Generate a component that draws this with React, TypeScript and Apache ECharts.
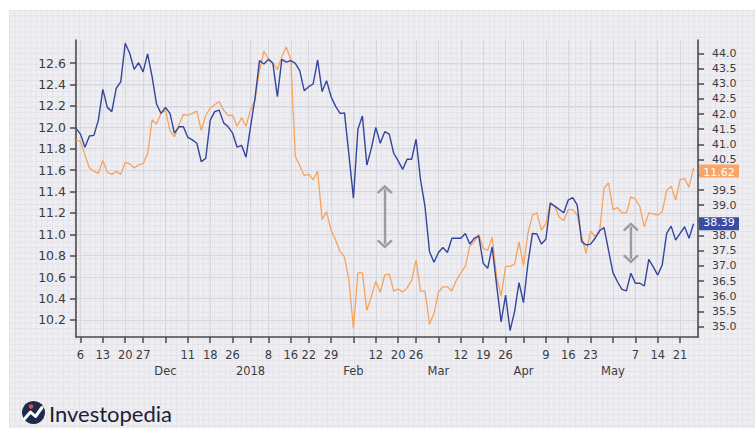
import React, { useEffect, useRef } from "react";
import * as echarts from "echarts";

// ---------- data ----------
const START_DATE = "2017-11-03";
const HOLIDAYS = ["2017-11-23", "2017-12-25", "2018-01-01", "2018-01-15", "2018-02-19", "2018-03-30"];

// orange series (left axis)
const orangeValues = [
  11.88, 11.87, 11.74, 11.62, 11.59, 11.57, 11.69, 11.58, 11.56, 11.59,
  11.56, 11.67, 11.66, 11.62, 11.65, 11.66, 11.75, 12.07, 12.03, 12.13,
  12.16, 11.97, 11.91, 12.02, 12.12, 12.11, 12.13, 12.15, 11.97, 12.11,
  12.18, 12.21, 12.24, 12.16, 12.11, 12.11, 12.01, 12.09, 12.01, 12.16,
  12.25, 12.53, 12.71, 12.64, 12.6, 12.54, 12.66, 12.75, 12.63, 11.73,
  11.64, 11.55, 11.56, 11.51, 11.59, 11.14, 11.21, 11.04, 10.95, 10.84,
  10.79, 10.57, 10.12, 10.64, 10.64, 10.29, 10.42, 10.56, 10.46, 10.62,
  10.63, 10.47, 10.49, 10.46, 10.5, 10.57, 10.76, 10.47, 10.47, 10.16,
  10.26, 10.46, 10.51, 10.51, 10.47, 10.57, 10.64, 10.7, 10.89, 10.93,
  11.0, 10.87, 10.85, 10.97, 10.6, 10.42, 10.7, 10.7, 10.72, 10.93,
  10.71, 11.01, 11.18, 11.2, 11.04, 11.1, 11.3, 11.26, 11.16, 11.13,
  11.23, 11.23, 11.18, 10.98, 10.82, 11.03, 10.98, 11.02, 11.43, 11.48,
  11.23, 11.25, 11.2, 11.2, 11.35, 11.33, 11.26, 11.07, 11.2, 11.19,
  11.18, 11.21, 11.41, 11.45, 11.32, 11.51, 11.52, 11.44, 11.62,
];

// blue series (right axis)
const blueValues = [
  41.53, 41.34, 40.91, 41.28, 41.3, 41.8, 42.81, 42.22, 42.08, 42.85,
  43.06, 44.33, 44.0, 43.47, 43.69, 43.39, 43.98, 43.23, 42.33, 42.02,
  42.22, 42.02, 41.37, 41.58, 41.58, 41.23, 41.15, 41.04, 40.43, 40.54,
  41.8, 42.08, 42.13, 41.71, 41.58, 41.37, 40.91, 40.97, 40.58, 41.58,
  42.52, 43.76, 43.65, 43.8, 43.67, 42.57, 43.8, 43.71, 43.76, 43.67,
  43.43, 42.77, 42.9, 42.99, 43.78, 42.74, 43.1, 42.57, 42.26, 42.02,
  42.04, 40.65, 39.23, 41.5, 41.94, 40.32, 40.87, 41.56, 41.04, 41.42,
  41.34, 40.71, 40.46, 40.18, 40.51, 40.51, 41.17, 39.83, 38.95, 37.47,
  37.12, 37.44, 37.61, 37.44, 37.91, 37.91, 37.91, 38.07, 37.72, 37.91,
  37.99, 37.09, 36.92, 37.63, 36.37, 35.16, 36.04, 34.87, 35.49, 36.45,
  35.79, 37.09, 38.07, 38.05, 37.72, 37.88, 39.06, 38.97, 38.86, 38.75,
  39.17, 39.25, 39.01, 37.8, 37.69, 37.72, 37.91, 38.16, 38.26, 37.52,
  36.78, 36.48, 36.23, 36.18, 36.76, 36.43, 36.43, 36.34, 37.22, 36.97,
  36.7, 37.03, 38.07, 38.31, 37.85, 38.07, 38.29, 37.91, 38.39,
];

const weekTicks = [
  "2017-11-06", "2017-11-13", "2017-11-20", "2017-11-27", "2017-12-04", "2017-12-11",
  "2017-12-18", "2017-12-26", "2018-01-02", "2018-01-08", "2018-01-16", "2018-01-22",
  "2018-01-29", "2018-02-05", "2018-02-12", "2018-02-20", "2018-02-26", "2018-03-05",
  "2018-03-12", "2018-03-19", "2018-03-26", "2018-04-02", "2018-04-09", "2018-04-16",
  "2018-04-23", "2018-04-30", "2018-05-07", "2018-05-14", "2018-05-21",
];
const monthTickDates = ["2017-12-04", "2018-01-02", "2018-02-05", "2018-03-05", "2018-04-02", "2018-04-30"];
const monthTickNames = ["Dec", "2018", "Feb", "Mar", "Apr", "May"];

const leftTicks = [10.2, 10.4, 10.6, 10.8, 11.0, 11.2, 11.4, 11.6, 11.8, 12.0, 12.2, 12.4, 12.6];
const rightTicks = [
  35.0, 35.5, 36.0, 36.5, 37.0, 37.5, 38.0, 38.5, 39.0, 39.5,
  40.0, 40.5, 41.0, 41.5, 42.0, 42.5, 43.0, 43.5, 44.0,
];
const LEFT_MIN = 10.041;
const LEFT_MAX = 12.815;
const RIGHT_MIN = 34.661;
const RIGHT_MAX = 44.438;

// annotation arrows (left-axis values)
const arrowDates = ["2018-02-14", "2018-05-04"];
const arrowTop = [11.42, 11.07];
const arrowBottom = [10.91, 10.77];

// ---------- helpers ----------
function buildDates(count: number): string[] {
  const out: string[] = [];
  const [y, m, d] = START_DATE.split("-").map(Number);
  const cur = new Date(Date.UTC(y, m - 1, d));
  while (out.length < count) {
    const s = cur.toISOString().slice(0, 10);
    const wd = cur.getUTCDay();
    if (wd !== 0 && wd !== 6 && HOLIDAYS.indexOf(s) < 0) out.push(s);
    cur.setUTCDate(cur.getUTCDate() + 1);
  }
  return out;
}

const ORANGE = "#f7a35c";
const BLUE = "#34459c";
const AXIS = "#4a4a4e";
const LABEL = "#3c3c40";
const SPLIT = "#d6d6de";
const FONT = "DejaVu Sans";
const CHEVRON = "path://M8,0L16,8L14.2,9.8L8,3.6L1.8,9.8L0,8Z";

export default function App() {
  const ref = useRef<HTMLDivElement>(null);

  useEffect(() => {
    if (!ref.current) return;
    const chart = echarts.init(ref.current, undefined, { renderer: "svg" });
    const dates = buildDates(orangeValues.length + 1);
    const tickSet = new Set(weekTicks);
    const monthMap: Record<string, string> = {};
    monthTickDates.forEach((d, i) => (monthMap[d] = monthTickNames[i]));
    const isTick = (_i: number, v: string) => tickSet.has(v);
    const lastIdx = orangeValues.length - 1;
    const padDate = dates[dates.length - 1];

    // right-axis labels hidden behind the last-value tags
    const orangeOnRight =
      RIGHT_MIN + ((orangeValues[lastIdx] - LEFT_MIN) / (LEFT_MAX - LEFT_MIN)) * (RIGHT_MAX - RIGHT_MIN);
    const tagCenters = [orangeOnRight, blueValues[lastIdx]];
    const rightLabelValues = rightTicks.filter((t) => tagCenters.every((c) => Math.abs(t - c) > 0.24));

    const tagLabel = (dy: number) => ({
      show: true,
      position: "inside",
      color: "#ffffff",
      fontFamily: FONT,
      fontSize: 11,
      lineHeight: 11,
      offset: [0, dy],
      formatter: (p: any) => Number(p.value).toFixed(2),
    });

    chart.setOption({
      animation: false,
      backgroundColor: "transparent",
      grid: { left: 76, right: 57, top: 40, bottom: 91 },
      xAxis: {
        type: "category",
        data: dates,
        boundaryGap: false,
        axisLine: { show: true, lineStyle: { color: AXIS, width: 1.6 } },
        axisTick: { show: true, interval: isTick, length: 6, lineStyle: { color: AXIS, width: 1.5 } },
        axisLabel: {
          interval: isTick,
          margin: 10,
          color: LABEL,
          fontFamily: FONT,
          fontSize: 11.5,
          lineHeight: 16,
          formatter: (v: string) => (monthMap[v] ? "\n" + monthMap[v] : String(Number(v.slice(8)))),
        },
        splitLine: { show: true, interval: isTick, lineStyle: { color: SPLIT, width: 1 } },
      },
      yAxis: [
        {
          type: "value",
          position: "left",
          min: LEFT_MIN,
          max: LEFT_MAX,
          axisLine: { show: true, lineStyle: { color: AXIS, width: 1.6 } },
          axisTick: { show: true, length: 6, customValues: leftTicks, lineStyle: { color: AXIS, width: 1.5 } },
          axisLabel: {
            customValues: leftTicks,
            margin: 10,
            color: LABEL,
            fontFamily: FONT,
            fontSize: 12.5,
            formatter: (v: number) => v.toFixed(1),
          },
          splitLine: { show: true, lineStyle: { color: SPLIT, width: 1 } },
        },
        {
          type: "value",
          position: "right",
          min: RIGHT_MIN,
          max: RIGHT_MAX,
          axisLine: { show: true, lineStyle: { color: AXIS, width: 1.6 } },
          axisTick: { show: true, length: 6, customValues: rightTicks, lineStyle: { color: AXIS, width: 1.5 } },
          axisLabel: {
            customValues: rightLabelValues,
            margin: 14,
            color: LABEL,
            fontFamily: FONT,
            fontSize: 11,
            lineHeight: 11,
            formatter: (v: number) => v.toFixed(1),
          },
          splitLine: { show: false },
        },
      ],
      series: [
        {
          type: "line",
          name: "orange",
          yAxisIndex: 0,
          data: orangeValues,
          showSymbol: false,
          symbol: "none",
          lineStyle: { color: ORANGE, width: 1.3 },
          itemStyle: { color: ORANGE },
          z: 3,
          markPoint: {
            silent: true,
            symbol: "rect",
            symbolSize: [40, 13],
            symbolOffset: [21, 3],
            itemStyle: { color: "#f9a565" },
            label: tagLabel(1.5),
            data: [{ coord: [padDate, orangeValues[lastIdx]], value: orangeValues[lastIdx] }],
          },
          markLine: {
            silent: true,
            symbol: [CHEVRON, CHEVRON],
            symbolSize: [16, 9],
            label: { show: false },
            lineStyle: { color: "#9b9ba4", width: 2.4, type: "solid" },
            data: arrowDates.map((d, i) => [
              { coord: [d, arrowTop[i]] },
              { coord: [d, arrowBottom[i]] },
            ]),
          },
        },
        {
          type: "line",
          name: "blue",
          yAxisIndex: 1,
          data: blueValues,
          showSymbol: false,
          symbol: "none",
          lineStyle: { color: BLUE, width: 1.4 },
          itemStyle: { color: BLUE },
          z: 4,
          markPoint: {
            silent: true,
            symbol: "rect",
            symbolSize: [40, 13],
            symbolOffset: [21, 0],
            itemStyle: { color: "#3a4ba3" },
            label: tagLabel(-1),
            data: [{ coord: [padDate, blueValues[lastIdx]], value: blueValues[lastIdx] }],
          },
        },
      ],
      graphic: [
        { type: "circle", shape: { cx: 33.5, cy: 412.5, r: 11.5 }, style: { fill: "#1d2a4d" }, silent: true },
        {
          type: "polyline",
          shape: { points: [[24.5, 419], [30.5, 412], [35.5, 416.5], [42, 407.5]] },
          style: { stroke: "#ffffff", lineWidth: 3, fill: "none", lineJoin: "round", lineCap: "round" },
          silent: true,
        },
        { type: "circle", shape: { cx: 31, cy: 406.5, r: 2.3 }, style: { fill: "#e8473d" }, silent: true },
        {
          type: "text",
          x: 49,
          y: 413,
          style: {
            text: "Investopedia",
            fill: "#1c2233",
            font: "22px Lato",
            verticalAlign: "middle",
          },
          silent: true,
        },
      ],
    });
    return () => chart.dispose();
  }, []);

  return (
    <div style={{ position: "fixed", left: 0, top: 0, width: 755, height: 428, background: "#ffffff", overflow: "hidden" }}>
      <div
        style={{
          position: "absolute",
          left: 9,
          top: 10,
          right: 0,
          bottom: 0,
          backgroundColor: "#efeff3",
          backgroundImage:
            "linear-gradient(#e2e2e8 1px, transparent 1px), linear-gradient(90deg, #e2e2e8 1px, transparent 1px)",
          backgroundSize: "5.4px 5.4px",
        }}
      />
      <div ref={ref} style={{ position: "absolute", left: 0, top: 0, width: 755, height: 428 }} />
    </div>
  );
}
